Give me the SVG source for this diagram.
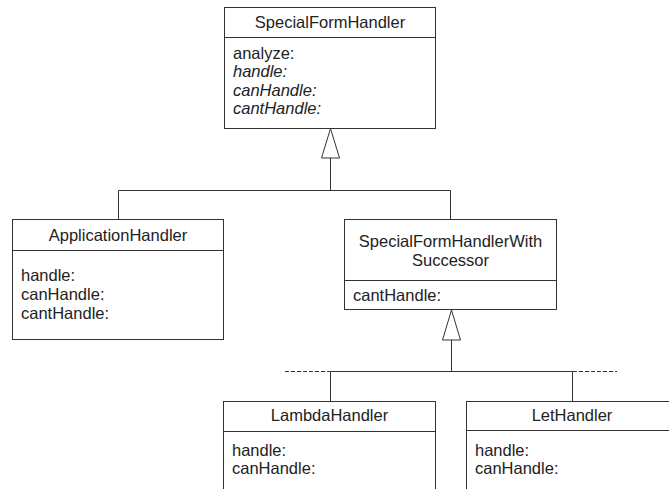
<svg xmlns="http://www.w3.org/2000/svg" width="669" height="489" viewBox="0 0 669 489">
  <style>
    .box { fill: #ffffff; stroke: #333333; stroke-width: 1; }
    .sep { stroke: #333333; stroke-width: 1; }
    .t { font-family: "Liberation Sans", Arial, sans-serif; font-size: 16.5px; fill: #222222; }
    .c { text-anchor: middle; }
    .i { font-style: italic; }
    .edge { fill: none; stroke: #333333; stroke-width: 1; }
    .dash { fill: none; stroke: #333333; stroke-width: 1; stroke-dasharray: 4 2; }
    .tri { fill: #ffffff; stroke: #333333; stroke-width: 1; }
  </style>

  <g id="connectors">
    <!-- generalization from first-level subclasses -->
    <polyline class="edge" points="118.5,219 118.5,190.5 450.5,190.5 450.5,219"/>
    <line class="edge" x1="330.5" y1="190.5" x2="330.5" y2="158"/>
    <polygon class="tri" points="330.5,128.5 321.5,158 339.5,158"/>
    <!-- generalization from second-level subclasses -->
    <polyline class="edge" points="330.5,401 330.5,371.5 572.5,371.5 572.5,401"/>
    <line class="edge" x1="451.5" y1="371.5" x2="451.5" y2="340"/>
    <polygon class="tri" points="451.5,310 442.5,340 460.5,340"/>
    <line class="dash" x1="285" y1="371.5" x2="330" y2="371.5"/>
    <line class="dash" x1="573" y1="371.5" x2="617" y2="371.5"/>
  </g>

  <g id="SpecialFormHandler">
    <rect class="box" x="224.5" y="7.5" width="211" height="121"/>
    <line class="sep" x1="224.5" y1="37.5" x2="435.5" y2="37.5"/>
    <text class="t c" x="330" y="27.5">SpecialFormHandler</text>
    <text class="t" x="233" y="58.5">analyze:</text>
    <text class="t i" x="233" y="77">handle:</text>
    <text class="t i" x="233" y="95.5">canHandle:</text>
    <text class="t i" x="233" y="114">cantHandle:</text>
  </g>

  <g id="ApplicationHandler">
    <rect class="box" x="12.5" y="219.5" width="211" height="120"/>
    <line class="sep" x1="12.5" y1="250.5" x2="223.5" y2="250.5"/>
    <text class="t c" x="118" y="240.5">ApplicationHandler</text>
    <text class="t" x="21" y="280.5">handle:</text>
    <text class="t" x="21" y="299.5">canHandle:</text>
    <text class="t" x="21" y="319">cantHandle:</text>
  </g>

  <g id="SpecialFormHandlerWithSuccessor">
    <rect class="box" x="344.5" y="219.5" width="212" height="90"/>
    <line class="sep" x1="344.5" y1="280.5" x2="556.5" y2="280.5"/>
    <text class="t c" x="450.5" y="247">SpecialFormHandlerWith</text>
    <text class="t c" x="450.5" y="265.5">Successor</text>
    <text class="t" x="353" y="301">cantHandle:</text>
  </g>

  <g id="LambdaHandler">
    <rect class="box" x="223.5" y="401.5" width="212" height="100"/>
    <line class="sep" x1="223.5" y1="431.5" x2="435.5" y2="431.5"/>
    <text class="t c" x="329.5" y="421">LambdaHandler</text>
    <text class="t" x="232" y="455.5">handle:</text>
    <text class="t" x="232" y="474">canHandle:</text>
  </g>

  <g id="LetHandler">
    <rect class="box" x="466.5" y="401.5" width="212" height="100"/>
    <line class="sep" x1="466.5" y1="430.5" x2="678.5" y2="430.5"/>
    <text class="t c" x="572" y="421">LetHandler</text>
    <text class="t" x="475" y="455.5">handle:</text>
    <text class="t" x="475" y="474">canHandle:</text>
  </g>
</svg>
